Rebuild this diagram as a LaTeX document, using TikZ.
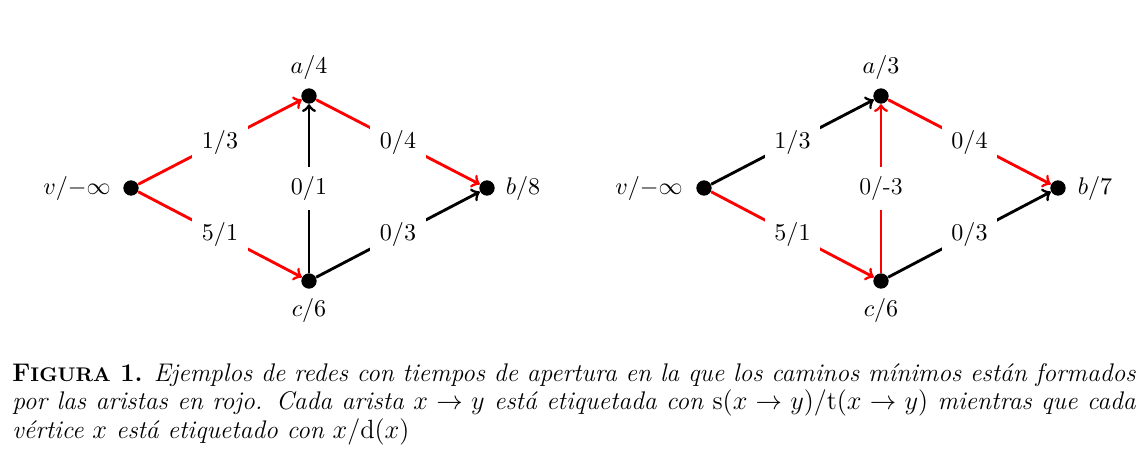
\documentclass[tikz,border=0pt]{standalone}
\usepackage{amsmath}
\begin{document}
\begin{tikzpicture}[x=0.455pt,y=-0.455pt,
  every node/.style={font=\fontsize{11}{13}\selectfont},
  vtx/.style={circle,fill=black,inner sep=0pt,minimum size=7pt},
  vlab/.style={inner sep=0pt,text=black},
  elab/.style={fill=white,text=black,inner sep=4.5pt},
  arc/.style={->,line width=1.3pt,black},
  redarc/.style={->,line width=1.3pt,red}]
\path[use as bounding box] (0,0) rectangle (1147,472);
% ---------- left graph ----------
\node[vtx] (v1) at (131,188) {};
\node[vtx] (a1) at (309,96) {};
\node[vtx] (b1) at (487,188) {};
\node[vtx] (c1) at (309,281) {};
\node[vlab] (lv1) at (77,188) {$v/{-\infty}$};
\node[vlab] (la1) at (309,67) {$a/4$};
\node[vlab] (lb1) at (523,188) {$b/8$};
\node[vlab] (lc1) at (309,310) {$c/6$};
\draw[redarc] (v1) -- node[elab] (e11) {$1/3$} (a1);
\draw[redarc] (v1) -- node[elab] (e12) {$5/1$} (c1);
\draw[arc] (c1) -- node[elab] (e13) {$0/1$} (a1);
\draw[redarc] (a1) -- node[elab] (e14) {$0/4$} (b1);
\draw[arc] (c1) -- node[elab] (e15) {$0/3$} (b1);
% ---------- right graph ----------
\node[vtx] (v2) at (704,188) {};
\node[vtx] (a2) at (881,96) {};
\node[vtx] (b2) at (1058,188) {};
\node[vtx] (c2) at (881,281) {};
\node[vlab] (lv2) at (649,188) {$v/{-\infty}$};
\node[vlab] (la2) at (881,67) {$a/3$};
\node[vlab] (lb2) at (1095,188) {$b/7$};
\node[vlab] (lc2) at (881,310) {$c/6$};
\draw[arc] (v2) -- node[elab] (e21) {$1/3$} (a2);
\draw[redarc] (v2) -- node[elab] (e22) {$5/1$} (c2);
\draw[redarc] (c2) -- node[elab] (e23) {0/-3} (a2);
\draw[redarc] (a2) -- node[elab] (e24) {$0/4$} (b2);
\draw[arc] (c2) -- node[elab] (e25) {$0/3$} (b2);
% ---------- caption ----------
\node[inner sep=0pt,anchor=base west] (cap) at (12,381) {\parbox[t]{511pt}{\fontsize{11.6}{13}\selectfont\baselineskip=13pt
{\bfseries F{\fontsize{9}{10}\selectfont IGURA} 1.} \itshape Ejemplos de redes con tiempos de apertura en la que los caminos mínimos están formados\linebreak
por las aristas en rojo. Cada arista $x\to y$ está etiquetada con $\mathrm{s}(x\to y)/\mathrm{t}(x\to y)$ mientras que cada\linebreak
vértice $x$ está etiquetado con $x/\mathrm{d}(x)$\par}};
\end{tikzpicture}
\end{document}
